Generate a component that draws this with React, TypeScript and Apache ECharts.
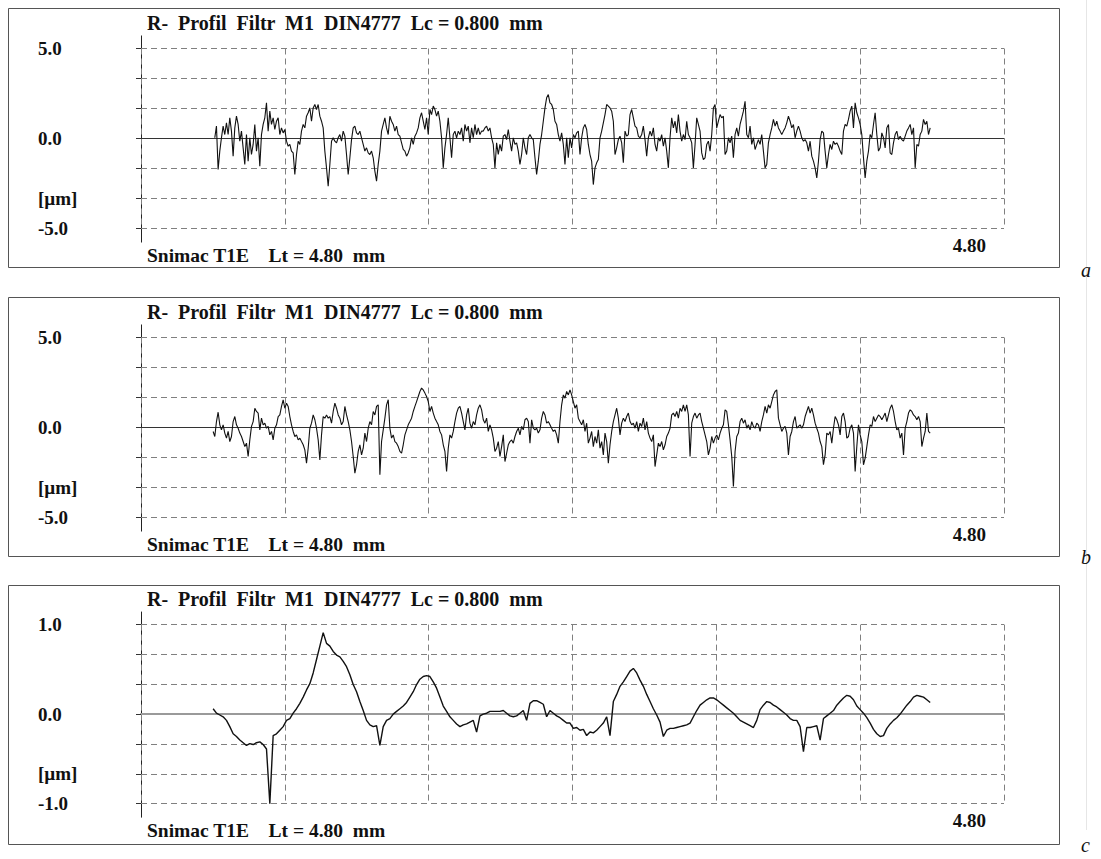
import React, { useEffect, useRef } from "react";
import * as echarts from "echarts";

// ---- Profile a (µm), sampled every ~0.00928 mm from 0.410 mm ----
const profileA1 = [
  0.04, 0.69, -1.72, -0.70, 0.04, 0.69, 0.22, 0.87, 0.22, 1.15,
  0.41, -0.98, 0.59, 1.24, 0.78, -0.15, 0.41, -0.52, -1.44, 0.22,
  -1.26, 0.04, -0.89, -0.33, 0.78, -0.70, 0.04, -1.54, 0.22, 0.78,
  1.15, 1.98, 0.41, 1.52, 0.78, 1.15, 0.50, 0.96, 1.15, 0.22,
  0.59, 0.31, 0.50, -0.15, -0.43, -0.33, -0.70, -0.80, -2.00, -0.89,
  -0.15, -0.33, 0.41, 0.78, 0.59, 1.24, 1.43, 1.70, 0.96, 1.70,
  1.89, 1.61, 1.89, 1.24, 0.96, 0.59, -0.70, -1.63, -2.65, -1.44,
  -0.15, 0.04, -0.15, -0.24, 0.04, 0.22, -0.15, 0.41, 0.13, -0.89,
  -2.00, -1.07, -0.06, 0.59, 0.69, 0.31, 0.22, 0.41, 0.04, -0.33,
  -0.70, -0.52, -0.80, -0.89, -0.70, -1.07, -1.81, -2.37, -1.44, -0.70,
  0.41, 0.78, 1.15, 0.59, 0.22,
];
const profileA2 = [
  1.24, 0.96, 0.78, 0.41, 0.69, 0.22, 0.13, -0.24, -0.61, -0.70,
  -0.98, -0.80, -0.52, 0.04, -0.33, 0.13, 0.31, 0.59, 1.15, 1.43,
  0.96, 0.50, 1.15, 0.22, 1.61, 1.33, 1.80, 1.61, 1.24, 1.52,
  0.96, 0.04, -1.63, -0.52, 0.22, 1.15, 0.04, -1.07, 0.22, 0.41,
  0.04, 0.41, 0.22, 0.59, -0.15, 0.78, 0.41, 0.69, -0.24, 0.59,
  0.04, 0.78, 0.22, 0.59, 0.22, 0.41, 0.41, 0.59, 0.69, 0.41,
  0.59, 0.04, -0.33, -1.63, -0.24, -0.89, -0.33, -0.70, 0.13, 0.22,
  -0.06, 0.50, -0.15, -0.70, 0.04, -0.33, -0.24, -0.70, -1.44, -0.89,
  0.04, -0.52, -0.89, 0.04, 0.22, 0.04, -0.06, -1.07, -2.00, -1.26,
  -0.33, 0.22, 0.96, 1.70, 2.26, 2.44, 1.98, 1.89, 1.61, 0.96,
  0.78, 0.22, -0.15, 0.31, -0.33, -1.44, 0.04, -1.07, 0.04,
];
const profileA3 = [
  -0.52, 0.22, 0.04, 0.31, 0.41, -0.89, 0.04, 0.59, 0.78, 0.50,
  -0.33, -0.89, -1.26, -2.56, -1.63, -1.35, -1.17, 0.04, 0.41, 0.87,
  1.33, 1.89, 1.80, 1.70, 1.52, 0.96, -0.89, -0.52, -0.06, 0.13,
  -0.24, -1.35, 0.41, 0.13, 0.22, 1.33, 1.61, 1.15, 0.69, 0.59,
  0.13, 0.04, 0.22, 0.69, -0.06, -0.98, 0.04, 0.41, 0.13, 0.59,
  -0.33, -0.70, 0.04, -0.15, 0.22, -0.43, 0.04, -0.70, -1.63, 0.04,
  1.15, 0.59, 0.96, 0.31, 1.33, 0.41, -0.15, 0.22, -0.06, 0.96,
  0.22, 0.04, -0.24, -1.63, -0.33, 1.15, 0.78, 0.41, -0.80, -1.17,
  -1.07, -0.33, -0.15, -0.70, 0.22, 1.70, 1.89, 0.59, 0.96, 1.33,
  1.15, 1.24, -0.89, -0.70, 0.04, -0.24, 0.13, -1.07, 0.22, 0.59,
  0.13, 0.78, 1.15, 1.52, 2.07, 0.22, 0.04, 0.69, -0.33, 0.04,
  -0.61, -0.33, -0.06,
];
const profileA4 = [
  -0.33, 0.22, -0.70, -1.63, -1.44, -0.24, 0.22, 0.59, 1.06, 0.69,
  0.96, 0.59, 0.41, 0.22, 0.41, 0.59, 0.87, 1.24, 0.96, 0.59,
  0.78, 0.04, 0.41, 0.69, 0.41, 0.04, -0.15, -0.06, -0.24, -0.70,
  -0.15, -0.98, -1.26, -1.63, -2.19, -1.26, -0.06, 0.41, 0.31, -0.70,
  -1.63, -0.89, -0.33, -0.61, -0.15, -0.33, -0.24, -0.43, -0.70, -0.89,
  0.41, 0.78, 0.69, 1.06, 1.52, 1.80, 0.59, 1.98, 1.43, 1.15,
  0.78, 0.22, -1.07, -2.19, -1.26, -0.70, 0.22, 0.04, 0.78, 1.43,
  0.22, -0.70, -0.52, 0.31, 0.04, -0.52, 0.59, 0.78, -0.80, -0.89,
  -0.24, 0.22, 0.41, -0.06, 0.13, -0.06, -0.15, 0.13, 0.41, 0.59,
  0.78, 0.22, 0.59, -1.63, -0.33, -0.43, 0.22, 0.41, 1.06, 0.78,
  0.96, 0.22, 0.59,
];

// ---- Profile b (µm) ----
const profileB1 = [
  -0.22, -0.50, 0.33, 0.85, 0.15, -0.13, 0.15, -0.31, -0.59, -0.22,
  -0.78, -0.50, 0.33, 0.61, 0.15, -0.04, -0.31, -0.50, -0.78, -1.06,
  -0.87, -1.61, -0.69, 0.06, 0.33, 1.07, 0.89, 0.80, -0.13, 0.52,
  0.15, 0.24, -0.04, 0.06, -0.41, -0.22, -0.69, -0.04, 0.15, 0.61,
  0.70, 1.17, 1.54, 1.07, 1.35, 1.17, 0.61, 0.15, -0.22, -0.50,
  -0.41, -0.69, -0.59, -0.78, -0.96, -1.24, -1.98, -1.15, -0.04, 0.24,
  0.70, 0.43, -0.04, -0.69, -1.80, -0.41, 0.61, 0.52, 0.70, 0.52,
  0.61, 0.24, 0.89, 1.35, 1.07, 0.70, 0.52, 0.15, 0.33, 1.17,
  0.70, 0.33, -0.13, -0.78, -1.61, -2.54, -2.07, -1.33, -0.96, -1.52,
  -1.15, -0.31, -0.78, -0.04, 0.33, 0.15, 0.89, 0.70, 1.17, 1.26,
  -2.63, -0.78, -0.13, 0.52, 1.26, 1.54,
];
const profileB2 = [
  -0.04, -0.59, -0.41, -0.78, -0.87, -1.06, -1.33, -1.43, -0.96, -0.41,
  -0.13, 0.15, 0.33, 0.52, 0.89, 1.17, 1.44, 1.72, 2.00, 2.19,
  2.09, 1.91, 1.72, 1.44, 0.89, 1.17, 0.80, 0.52, 0.33, 0.15,
  -0.22, -0.41, -0.96, -1.33, -2.44, -1.15, -0.41, -0.59, -0.22, 0.33,
  0.80, 1.07, 1.17, 0.80, 0.33, -0.13, 0.70, 1.07, 0.24, -0.04,
  0.33, 0.15, 0.70, 1.07, 1.26, 0.98, 0.43, 0.24, 0.52, -0.22,
  0.15, -0.13, -0.59, -1.33, -1.15, -0.78, -1.61, -1.06, -0.41, -1.89,
  -1.43, -0.96, -0.78, -0.69, -0.87, -0.50, -0.22, -0.04, -0.41, 0.06,
  -0.13, 0.43, 0.52, 0.33, -0.87, 0.43, -0.04, -0.13, -0.04, -0.31,
  -0.13, 0.52, 0.89, 0.70, 0.24, 0.33, 0.15, -0.04, -0.22, -0.13,
  -0.41, -0.87, 0.33, 1.26, 1.81, 1.63, 2.00, 1.81, 2.09,
];
const profileB3 = [
  1.81, 1.44, 1.07, 1.26, 0.52, 0.33, 0.15, 0.43, -0.22, 0.24,
  -0.87, -0.59, -0.22, -1.06, -0.50, -0.87, -0.13, -1.15, -0.78, -1.52,
  -0.31, -0.78, -1.98, -0.96, -0.22, 0.33, 0.70, 1.07, 0.52, -0.41,
  0.24, 0.52, 0.33, 0.61, 0.80, 0.33, 0.15, 0.24, -0.04, 0.33,
  -0.22, 0.24, 0.06, 0.52, -0.13, 0.33, -0.31, -0.59, -0.78, -0.41,
  -2.17, -1.52, -0.87, -1.06, -0.78, -1.24, -0.96, -0.50, -0.31, -0.04,
  0.70, 0.80, 0.61, 0.89, 0.52, 1.07, 0.89, 1.26, 0.89, 1.26,
  0.70, -1.61, 0.24, 0.61, 0.80, 0.52, 0.70, 0.80, 0.33, -0.04,
  -0.41, -0.78, -1.52, -1.15, -0.50, -0.87, -0.59, -0.41, -0.69, -0.31,
  -0.04, 0.15, 0.98, 0.89, 0.15, -0.69, -1.61, -3.28, -1.33, -0.50,
  -0.31, 0.33, 0.52, 0.24, 0.43, -0.04, 0.15, -0.13, 0.33, 0.06,
  -0.04, 0.24, 0.15,
];
const profileB4 = [
  -0.22, 0.33, 0.70, 1.17, 0.80, 1.26, 1.07, 1.44, 1.81, 2.00,
  2.09, 0.52, 0.15, -0.22, -0.04, 0.06, -0.31, -1.52, -0.50, -0.22,
  0.33, 0.61, -0.04, 0.06, 0.15, -0.04, 0.15, 0.61, 0.89, 1.17,
  0.80, 1.07, 0.70, 0.24, -0.04, -0.31, -0.78, -1.06, -2.07, -1.52,
  -0.31, -0.41, -0.22, -0.87, -0.04, 0.61, 0.43, 0.15, -0.41, 0.61,
  0.80, 0.33, -0.59, -0.50, -0.04, 0.15, -0.31, -2.44, -1.06, 0.15,
  -0.41, -0.78, -2.07, -1.70, -1.06, -0.41, 0.15, 0.06, 0.61, 0.33,
  0.52, 0.70, 0.61, 0.43, 0.61, 0.80, 0.33, 0.70, 1.07, 1.26,
  0.89, 0.33, -0.13, -0.04, -0.59, -0.31, -1.52, -0.04, 0.33, 0.80,
  0.98, 0.89, 0.70, 0.61, 0.43, 0.61, 0.33, -1.06, -0.59, -0.22,
  0.80, -0.22, -0.31,
];

// ---- Profile c (µm), sampled every ~0.01855 mm from 0.401 mm ----
const profileC1 = [
  0.06, 0.01, -0.01, -0.03, -0.07, -0.14, -0.22, -0.25, -0.29, -0.32,
  -0.35, -0.33, -0.34, -0.32, -0.31, -0.34, -0.39, -1.00, -0.24, -0.22,
  -0.18, -0.14, -0.07, -0.05, 0.01, 0.06, 0.12, 0.19, 0.27, 0.34,
  0.46, 0.61, 0.76, 0.91, 0.79, 0.76, 0.70, 0.66, 0.64, 0.59,
  0.53, 0.44, 0.33, 0.25, 0.14, 0.04, -0.07, -0.12, -0.14, -0.13,
  -0.35, -0.14, -0.07, -0.05,
];
const profileC2 = [
  0.00, 0.03, 0.06, 0.09, 0.13, 0.19, 0.25, 0.33, 0.39, 0.42,
  0.43, 0.42, 0.36, 0.29, 0.19, 0.09, 0.03, -0.03, -0.07, -0.11,
  -0.14, -0.12, -0.11, -0.09, -0.07, -0.20, -0.02, 0.00, 0.01, 0.03,
  0.03, 0.03, 0.03, 0.04, 0.01, -0.02, -0.03, -0.02, 0.01, 0.04,
  -0.07, 0.12, 0.15, 0.15, 0.13, 0.11, -0.03, 0.04, 0.01, -0.02,
  -0.04, -0.07, -0.10, -0.10, -0.16,
];
const profileC3 = [
  -0.15, -0.18, -0.17, -0.24, -0.20, -0.21, -0.18, -0.14, -0.10, -0.03,
  -0.24, 0.14, 0.22, 0.31, 0.36, 0.42, 0.48, 0.51, 0.46, 0.38,
  0.31, 0.22, 0.14, 0.06, -0.01, -0.09, -0.25, -0.18, -0.16, -0.16,
  -0.15, -0.14, -0.13, -0.12, -0.10, -0.03, 0.04, 0.10, 0.13, 0.16,
  0.18, 0.18, 0.16, 0.13, 0.10, 0.07, 0.04, 0.01, -0.03, -0.07,
  -0.09, -0.11, -0.13, -0.15,
];
const profileC4 = [
  -0.07, 0.05, 0.10, 0.14, 0.13, 0.10, 0.08, 0.05, 0.02, -0.01,
  -0.05, -0.07, -0.07, -0.14, -0.42, -0.15, -0.15, -0.14, -0.13, -0.29,
  -0.05, -0.02, 0.01, 0.04, 0.10, 0.14, 0.18, 0.21, 0.20, 0.16,
  0.09, 0.05, 0.01, -0.04, -0.10, -0.17, -0.22, -0.25, -0.24, -0.16,
  -0.11, -0.07, -0.04, 0.00, 0.05, 0.10, 0.14, 0.19, 0.21, 0.20,
  0.19, 0.16, 0.13,
];

const profileA = [...profileA1, ...profileA2, ...profileA3, ...profileA4];
const profileB = [...profileB1, ...profileB2, ...profileB3, ...profileB4];
const profileC = [...profileC1, ...profileC2, ...profileC3, ...profileC4];

// sampling (mm)
const startA = 0.4104;
const startB = 0.4012;
const startC = 0.4012;
const stepAB = 0.009275;
const stepC = 0.01855;

const xMax = 4.8; // Lt = 4.80 mm
const xInterval = 0.8; // Lc = 0.800 mm
const yRanges = [5, 5, 1];
const yTickTexts = [
  ["-5.0", "[µm]", "", "0.0", "", "", "5.0"],
  ["-5.0", "[µm]", "", "0.0", "", "", "5.0"],
  ["-1.0", "[µm]", "", "0.0", "", "", "1.0"],
];
const titleText = "R-  Profil  Filtr  M1  DIN4777  Lc = 0.800  mm";
const footText = "Snimac T1E    Lt = 4.80  mm";
const endText = "4.80";
const panelLetters = ["a", "b", "c"];

const W = 1101;
const H = 859;
const gridLeft = 141;
const gridRight = 1004;
const gridTops = [48.5, 337.5, 624.6];
const gridHeights = [180, 180, 179];
const frameTops = [8.5, 297.5, 585.5];
const letterYs = [270, 557, 845];

const FONT = "'Liberation Serif', 'Times New Roman', serif";

export default function App() {
  const ref = useRef<HTMLDivElement>(null);
  useEffect(() => {
    document.body.style.margin = "0";
    if (!ref.current) return;
    const chart = echarts.init(ref.current, undefined, { renderer: "svg" });

    const profiles = [
      profileA.map((v, i) => [startA + i * stepAB, v]),
      profileB.map((v, i) => [startB + i * stepAB, v]),
      profileC.map((v, i) => [startC + i * stepC, v]),
    ];

    const grids: any[] = [];
    const xAxes: any[] = [];
    const yAxes: any[] = [];
    const series: any[] = [];
    const graphics: any[] = [];

    // faint scan line (behind everything)
    graphics.push({
      type: "line",
      z: -10,
      shape: { x1: 1086.5, y1: 0, x2: 1086.5, y2: 830 },
      style: { stroke: "#e6e6e6", lineWidth: 1 },
      silent: true,
    });

    for (let p = 0; p < 3; p++) {
      const R = yRanges[p];
      const top = gridTops[p];
      const h = gridHeights[p];
      grids.push({
        left: gridLeft,
        width: gridRight - gridLeft,
        top,
        height: h,
        containLabel: false,
      });
      xAxes.push({
        gridIndex: p,
        type: "value",
        min: 0,
        max: xMax,
        interval: xInterval,
        axisLine: {
          show: true,
          onZero: true,
          lineStyle: { color: p === 2 ? "#9a9a9a" : "#333", width: p === 2 ? 2 : 1 },
        },
        axisTick: { show: false },
        axisLabel: { show: false },
        splitLine: {
          show: true,
          lineStyle: { color: "#808080", type: [6, 4], width: 1 },
        },
      });
      const texts = yTickTexts[p];
      yAxes.push({
        gridIndex: p,
        type: "value",
        min: -R,
        max: R,
        interval: R / 3,
        axisLine: { show: false },
        axisTick: { show: true, length: 5, lineStyle: { color: "#333" } },
        axisLabel: {
          show: true,
          margin: 103,
          align: "left",
          fontFamily: FONT,
          fontWeight: "bold",
          fontSize: 19,
          color: "#111",
          formatter: (_v: number, idx: number) => texts[idx] ?? "",
        },
        splitLine: {
          show: true,
          lineStyle: { color: "#808080", type: [6, 4], width: 1 },
        },
      });
      series.push({
        type: "line",
        xAxisIndex: p,
        yAxisIndex: p,
        data: profiles[p],
        showSymbol: false,
        symbol: "none",
        lineStyle: { color: "#111", width: p === 2 ? 1.4 : 1.1 },
        z: 5,
      });

      // frame
      graphics.push({
        type: "rect",
        shape: { x: 8.5, y: frameTops[p], width: 1051, height: 259 },
        style: { fill: "none", stroke: "#555", lineWidth: 1 },
        silent: true,
      });
      // y axis line (extends beyond grid)
      graphics.push({
        type: "line",
        shape: { x1: gridLeft + 0.5, y1: top - 13, x2: gridLeft + 0.5, y2: top + h + 14 },
        style: { stroke: "#222", lineWidth: 1 },
        silent: true,
      });
      graphics.push({
        type: "text",
        x: 147,
        y: top - 26,
        style: {
          text: titleText,
          font: `bold 20px ${FONT}`,
          fill: "#111",
          textVerticalAlign: "middle",
        },
      });
      graphics.push({
        type: "text",
        x: 147,
        y: top + h + 27,
        style: {
          text: footText,
          font: `bold 19.5px ${FONT}`,
          fill: "#111",
          textVerticalAlign: "middle",
        },
      });
      graphics.push({
        type: "text",
        x: 986,
        y: top + h + 17,
        style: {
          text: endText,
          font: `bold 19px ${FONT}`,
          fill: "#111",
          textAlign: "right",
          textVerticalAlign: "middle",
        },
      });
      graphics.push({
        type: "text",
        x: 1081,
        y: letterYs[p],
        style: {
          text: panelLetters[p],
          font: `italic 20px ${FONT}`,
          fill: "#111",
          textVerticalAlign: "middle",
        },
      });
    }

    chart.setOption({
      animation: false,
      backgroundColor: "#fff",
      grid: grids,
      xAxis: xAxes,
      yAxis: yAxes,
      series,
      graphic: graphics,
    });
    return () => chart.dispose();
  }, []);
  return <div ref={ref} style={{ width: W, height: H }} />;
}
